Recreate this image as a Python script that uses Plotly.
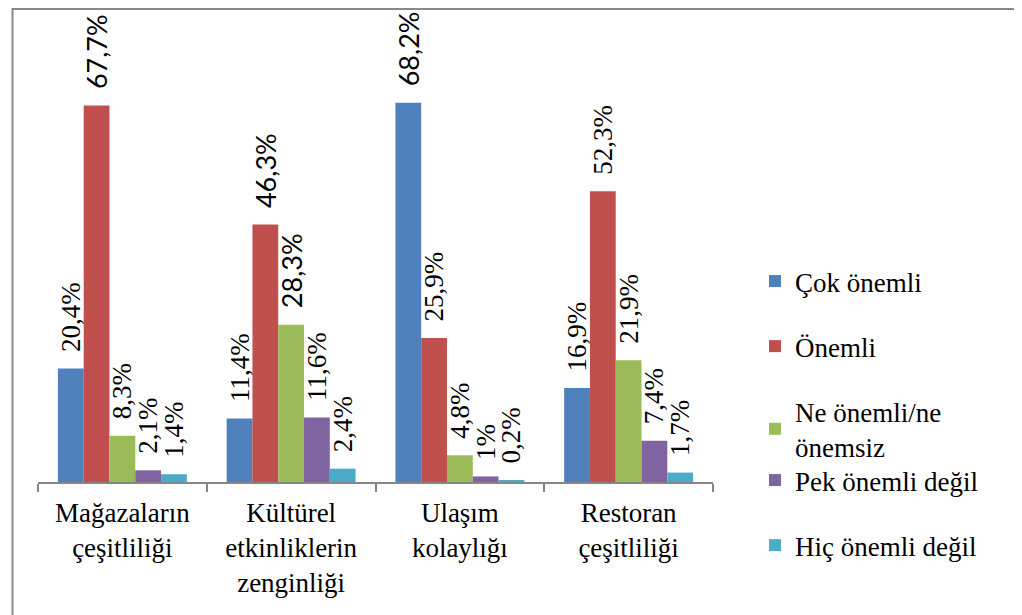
import plotly.graph_objects as go

categories = ["Mağazaların<br>çeşitliliği", "Kültürel<br>etkinliklerin<br>zenginliği",
              "Ulaşım<br>kolaylığı", "Restoran<br>çeşitliliği"]
series_names = ["Çok önemli", "Önemli", "Ne önemli/ne<br>önemsiz", "Pek önemli değil", "Hiç önemli değil"]
cok_onemli = [20.4, 11.4, 68.2, 16.9]
onemli = [67.7, 46.3, 25.9, 52.3]
ne_onemli = [8.3, 28.3, 4.8, 21.9]
pek_onemli_degil = [2.1, 11.6, 1, 7.4]
hic_onemli_degil = [1.4, 2.4, 0.2, 1.7]
colors = ["#4F81BD", "#C0504D", "#9BBB59", "#8064A2", "#4BACC6"]
# labels that appear in a sans-serif face in the original
sans_labels = {(1, 0), (1, 1), (2, 1), (0, 2)}

values = [cok_onemli, onemli, ne_onemli, pek_onemli_degil, hic_onemli_degil]

SERIF = "Liberation Serif, Tinos, Times New Roman, serif"
FS = 27
W, H = 1022, 615
OFF = 8  # page body margin


def px(x):
    return (x - OFF) / W


def py(y):
    return 1 - (y - OFF) / H


def fmt(v, sans):
    s = f"{v:g}".replace(".", ",") + "%"
    if sans:
        s = f'<span style="font-family:Lato">{s}</span>'
    return "\u00a0\u00a0" + s


fig = go.Figure()
for i, (name, vals) in enumerate(zip(series_names, values)):
    fig.add_trace(go.Bar(
        x=categories, y=vals, name=name,
        marker=dict(color=colors[i], line=dict(width=0)),
        text=[fmt(v, (i, j) in sans_labels) for j, v in enumerate(vals)],
        textposition="outside", textangle=-90,
        textfont=dict(family=SERIF, size=FS, color="black"),
        constraintext="none", cliponaxis=False,
        legendgroup=f"g{i}",
        legend="legend" if i < 3 else "legend2",
        hoverinfo="skip",
    ))

fig.update_layout(
    width=W, height=H, autosize=False,
    margin=dict(l=0, r=0, t=0, b=0),
    paper_bgcolor="white", plot_bgcolor="white",
    barmode="group", bargap=0.236, bargroupgap=0,
    font=dict(family=SERIF, size=FS, color="black"),
    xaxis=dict(domain=[px(38), px(713)], showline=True, linecolor="#868686", linewidth=1.5,
               ticks="outside", tickson="boundaries", ticklen=8, tickcolor="#868686", tickwidth=1.5,
               ticklabelstandoff=6,
               tickfont=dict(family=SERIF, size=FS, color="black"), showgrid=False, zeroline=False),
    yaxis=dict(domain=[py(482), py(30)], range=[0, 452 / 5.56],
               visible=False, showgrid=False, zeroline=False),
    legend=dict(x=px(755), y=py(257), xanchor="left", yanchor="top",
                tracegroupgap=27, font=dict(family=SERIF, size=FS, color="black"),
                bgcolor="rgba(0,0,0,0)"),
    legend2=dict(x=px(755), y=py(456), xanchor="left", yanchor="top",
                 tracegroupgap=27, font=dict(family=SERIF, size=FS, color="black"),
                 bgcolor="rgba(0,0,0,0)"),
    showlegend=True,
    shapes=[dict(type="rect", xref="paper", yref="paper",
                 x0=px(12.5), x1=1.05, y0=-0.05, y1=py(9),
                 line=dict(color="#898989", width=2), fillcolor="rgba(0,0,0,0)", layer="below")],
)

fig.write_html("out.html")
